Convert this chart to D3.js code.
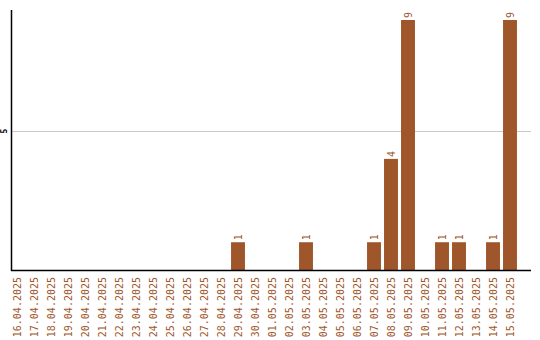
<!DOCTYPE html>
<html>
<head>
<meta charset="utf-8">
<script src="https://cdn.jsdelivr.net/npm/d3@7"></script>
<style>
body { margin: 0; background: #fff; }
</style>
</head>
<body>
<svg id="chart" width="540" height="340"></svg>
<script>
var dates = ['16.04.2025', '17.04.2025', '18.04.2025', '19.04.2025', '20.04.2025',
	'21.04.2025', '22.04.2025', '23.04.2025', '24.04.2025', '25.04.2025',
	'26.04.2025', '27.04.2025', '28.04.2025', '29.04.2025', '30.04.2025',
	'01.05.2025', '02.05.2025', '03.05.2025', '04.05.2025', '05.05.2025',
	'06.05.2025', '07.05.2025', '08.05.2025', '09.05.2025', '10.05.2025',
	'11.05.2025', '12.05.2025', '13.05.2025', '14.05.2025', '15.05.2025'];
var counts = [0, 0, 0, 0, 0, 0, 0, 0, 0, 0,
	0, 0, 0, 1, 0, 0, 0, 1, 0, 0,
	0, 1, 4, 9, 0, 1, 1, 0, 1, 9];
var yTicks = [5];

var svg = d3.select('#chart'),
	color = '#a0562b',
	baseY = 270;

var x = d3.scaleBand()
	.domain(dates)
	.range([8.5, 518.5])
	.paddingInner(0.18)
	.paddingOuter(0.09);

var y = d3.scaleLinear()
	.domain([0, 9])
	.range([baseY, 20]);

// gridline
svg.selectAll('line.grid')
	.data(yTicks)
	.enter().append('line')
	.attr('x1', 12).attr('x2', 531)
	.attr('y1', function (d) { return Math.round(y(d)) + 0.5; })
	.attr('y2', function (d) { return Math.round(y(d)) + 0.5; })
	.style('stroke', '#c8c8c8');

svg.selectAll('text.ytick')
	.data(yTicks)
	.enter().append('text')
	.attr('transform', function (d) { return 'translate(' + [7, y(d)] + ') rotate(-90)'; })
	.attr('text-anchor', 'middle')
	.style('font-family', 'DejaVu Sans Mono, monospace')
	.style('font-size', '8px')
	.style('font-weight', 'bold')
	.text(function (d) { return d; });

// bars
var data = dates.map(function (d, i) { return { date: d, value: counts[i] }; });

svg.selectAll('rect.bar')
	.data(data.filter(function (d) { return d.value > 0; }))
	.enter().append('rect')
	.attr('x', function (d) { return x(d.date); })
	.attr('y', function (d) { return y(d.value); })
	.attr('width', x.bandwidth())
	.attr('height', function (d) { return baseY - y(d.value); })
	.style('fill', color);

svg.selectAll('text.val')
	.data(data.filter(function (d) { return d.value > 0; }))
	.enter().append('text')
	.attr('transform', function (d) {
		return 'translate(' + [x(d.date) + x.bandwidth() / 2 + 3.5, y(d.value) - 2] + ') rotate(-90)';
	})
	.style('font-family', 'DejaVu Sans Mono, monospace')
	.style('font-size', '10px')
	.style('fill', color)
	.text(function (d) { return d.value; });

// axes
svg.append('line')
	.attr('x1', 11.5).attr('x2', 11.5)
	.attr('y1', 10).attr('y2', baseY + 1)
	.style('stroke', '#000').style('stroke-width', 1.5);

svg.append('line')
	.attr('x1', 11).attr('x2', 531)
	.attr('y1', baseY + 0.5).attr('y2', baseY + 0.5)
	.style('stroke', '#000').style('stroke-width', 1.5);

svg.selectAll('text.xlab')
	.data(dates)
	.enter().append('text')
	.attr('transform', function (d) {
		return 'translate(' + [x(d) + x.bandwidth() / 2 + 4, baseY + 7] + ') rotate(-90)';
	})
	.attr('text-anchor', 'end')
	.style('font-family', 'DejaVu Sans Mono, monospace')
	.style('font-size', '10px')
	.style('fill', color)
	.text(function (d) { return d; });
</script>
</body>
</html>
